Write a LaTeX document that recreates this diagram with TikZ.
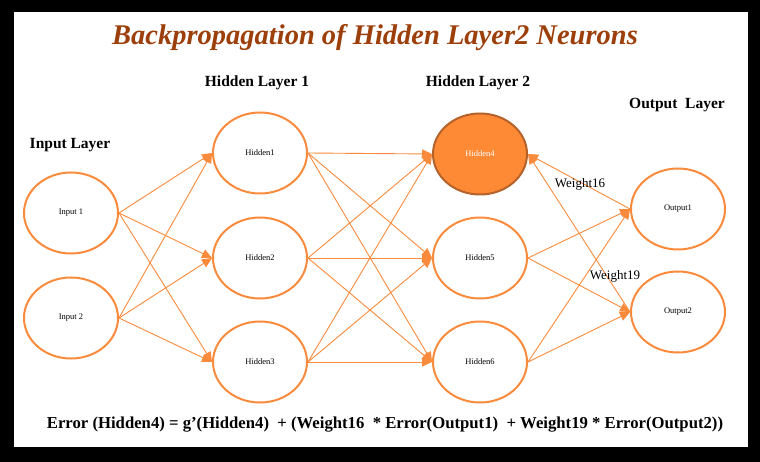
\documentclass[tikz,border=0pt]{standalone}
\usepackage{fontspec}
\setmainfont{Liberation Serif}
\usetikzlibrary{shapes.geometric,arrows.meta}
\definecolor{edgeor}{HTML}{FA8B3C}
\definecolor{titlebr}{HTML}{9C3F0B}
\definecolor{hfill}{HTML}{FF8A35}
\definecolor{hdraw}{HTML}{B5622A}
\tikzset{
  neuron/.style={ellipse, draw=edgeor, line width=2pt, fill=white, minimum width=94pt, minimum height=81pt, inner sep=0pt, font=\fontsize{8.5}{9}\selectfont},
  active/.style={neuron, fill=hfill, draw=hdraw, text=white},
  conn/.style={draw=edgeor, line width=0.9pt, -{Triangle[length=10pt,width=9pt]}},
  layerlabel/.style={font=\fontsize{15.5}{17}\selectfont\bfseries},
  wlabel/.style={font=\fontsize{13}{15}\selectfont}
}
\begin{document}
\begin{tikzpicture}[x=1pt,y=-1pt]
\fill[black] (0,0) rectangle (760,462);
\fill[white] (14,12) rectangle (748,447);
\useasboundingbox (0,0) rectangle (760,462);

\node[font=\fontsize{28.5}{32}\selectfont\bfseries\itshape, text=titlebr] (title) at (375,38) {Backpropagation of Hidden Layer2 Neurons};

\node[layerlabel] (l1) at (257,83) {Hidden Layer 1};
\node[layerlabel] (l2) at (478,83) {Hidden Layer 2};
\node[layerlabel] (lo) at (677,105) {Output\ \ Layer};
\node[layerlabel] (li) at (70,145) {Input\ Layer};

\node[neuron] (i1) at (71,213) {Input 1};
\node[neuron] (i2) at (71,318) {Input 2};
\node[neuron] (h1) at (260,153) {Hidden1};
\node[neuron] (h2) at (260,258) {Hidden2};
\node[neuron] (h3) at (260,362) {Hidden3};
\node[active] (h4) at (480,154) {Hidden4};
\node[neuron] (h5) at (480,258) {Hidden5};
\node[neuron] (h6) at (480,362) {Hidden6};
\node[neuron] (o1) at (678,209) {Output1};
\node[neuron] (o2) at (678,312) {Output2};

\foreach \s in {i1,i2}{
  \foreach \t in {h1,h2,h3}{
    \draw[conn] (\s.east) -- (\t.west);
  }
}
\foreach \s in {h1,h2,h3}{
  \foreach \t in {h4,h5,h6}{
    \draw[conn] (\s.east) -- (\t.west);
  }
}
\foreach \s in {h5,h6}{
  \foreach \t in {o1,o2}{
    \draw[conn] (\s.east) -- (\t.west);
  }
}
\draw[conn] (o1.west) -- (h4.east);
\draw[conn] (o2.west) -- (h4.east);

\node[wlabel] (w16) at (580,184) {Weight16};
\node[wlabel] (w19) at (615,276) {Weight19};

\node[font=\fontsize{16.7}{19}\selectfont\bfseries] (eq) at (385,425) {Error (Hidden4) = g’(Hidden4)\ \ + (Weight16\ \ * Error(Output1)\ \ + Weight19 * Error(Output2))};
\end{tikzpicture}
\end{document}
